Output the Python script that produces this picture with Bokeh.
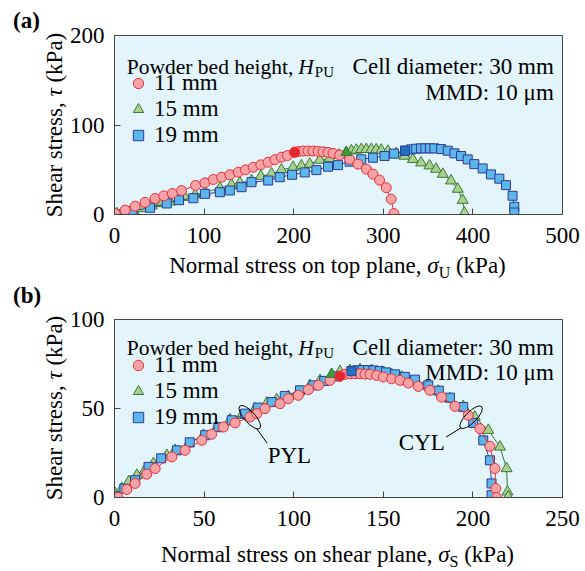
import math
from bokeh.plotting import figure
from bokeh.models import Label, Legend, LegendItem, Range1d, FixedTicker, Div
from bokeh.layouts import column, row
from bokeh.embed import file_html
from bokeh.resources import INLINE

# ---------------- data ----------------
# (a) normal stress on top plane sigma_U (kPa) vs shear stress tau (kPa)
a11_x = [0.7, 11.9, 23.0, 34.1, 45.3, 55.0, 64.5, 74.9, 90.5, 100.9, 110.2, 119.5, 128.7, 138.1,
         146.2, 154.8, 163.3, 171.5, 179.0, 186.3, 193.0, 201.1, 205.5, 210.5, 216.0, 221.6,
         227.2, 232.7, 238.3, 243.9, 251.3, 262.4, 271.7, 281.0, 288.4, 295.8, 303.3, 308.8, 311.8]
a11_y = [1.1, 4.9, 9.3, 13.6, 17.9, 20.8, 23.5, 26.8, 32.4, 35.4, 39.1, 41.7, 44.4, 47.3,
         49.9, 52.8, 55.5, 58.4, 61.3, 64.0, 65.9, 69.6, 70.5, 70.9, 70.9, 70.9,
         70.5, 70.1, 69.4, 68.3, 66.4, 61.6, 56.3, 50.7, 45.1, 38.4, 29.9, 17.2, 1.1]
a11_pk = 21

a15_x = [2.6, 21.2, 30.4, 41.6, 52.7, 62.0, 78.6, 89.8, 100.9, 117.6, 130.6, 139.9, 152.9, 163.3,
         175.2, 186.3, 199.3, 208.6, 217.9, 229.0, 240.2, 250.2, 258.7, 264.3, 269.9, 275.4,
         281.0, 286.6, 292.1, 297.7, 305.1, 314.4, 323.7, 333.0, 342.2, 351.5, 358.9, 366.4,
         375.6, 383.1, 388.6, 390.5]
a15_y = [1.1, 4.1, 6.7, 9.7, 12.3, 14.2, 19.3, 22.0, 24.9, 29.4, 33.2, 35.4, 38.0, 42.8,
         45.5, 49.9, 52.8, 54.5, 56.3, 60.8, 62.7, 66.4, 69.4, 71.3, 72.0, 72.8,
         72.8, 72.8, 72.4, 72.0, 70.9, 68.3, 65.3, 61.6, 57.8, 54.5, 50.7, 45.1,
         37.7, 28.4, 16.0, 1.9]
a15_pk = 22

a19_x = [2.6, 20.0, 39.7, 58.3, 72.0, 88.0, 100.9, 117.6, 128.7, 141.8, 152.9, 171.5, 184.4,
         198.2, 212.3, 225.3, 238.3, 249.4, 262.4, 275.4, 288.4, 301.4, 312.0, 324.3, 331.1,
         336.7, 342.0, 347.0, 352.0, 357.0, 364.5, 371.9, 379.4, 386.8, 394.2, 401.6, 410.9,
         420.1, 429.5, 436.9, 444.3, 446.2, 446.2]
a19_y = [0.5, 4.0, 7.5, 12.3, 16.0, 18.2, 23.1, 24.9, 26.8, 30.5, 36.1, 38.0, 41.7,
         44.4, 47.0, 49.6, 53.4, 55.2, 59.0, 61.6, 63.4, 65.3, 68.0, 71.3, 72.8,
         73.5, 73.9, 73.9, 73.9, 73.9, 73.1, 71.3, 68.3, 65.3, 61.6, 56.3, 51.5,
         44.8, 40.0, 32.8, 20.9, 8.6, 2.2]
a19_pk = 23

# (b) normal stress on shear plane sigma_S (kPa) vs shear stress tau (kPa)
b11_x = [1.9, 6.9, 11.5, 18.0, 22.7, 32.0, 39.4, 48.7, 54.2, 60.8, 67.3, 75.6, 79.4, 84.0,
         92.4, 97.0, 102.6, 108.2, 113.8, 120.3, 125.8, 128.6, 131.4, 134.2, 137.0, 139.8,
         142.6, 146.3, 150.0, 154.6, 159.3, 163.9, 169.5, 176.0, 182.5, 190.0, 197.4, 203.9,
         209.5, 212.3, 212.8, 213.2]
b11_y = [0.0, 4.5, 7.9, 13.1, 16.3, 22.8, 26.5, 32.1, 35.5, 39.6, 41.9, 45.2, 47.1, 49.9,
         52.7, 55.5, 57.4, 60.6, 63.0, 65.8, 68.2, 69.2, 69.5, 69.5, 69.5, 69.3,
         69.2, 68.6, 67.7, 66.7, 65.8, 64.3, 62.4, 60.2, 56.4, 51.2, 46.2, 38.7,
         28.8, 16.3, 5.0, 0.0]
b11_pk = 20

b15_x = [0.4, 4.1, 8.0, 12.5, 17.0, 21.7, 29.2, 33.8, 41.3, 49.6, 57.1, 64.5, 71.0, 78.4,
         85.0, 90.5, 97.0, 102.6, 109.1, 114.7, 121.2, 125.8, 131.4, 137.0, 143.5, 149.1,
         154.6, 160.2, 168.6, 174.2, 180.7, 187.2, 194.6, 201.1, 208.6, 215.1, 218.8, 219.3, 219.7]
b15_y = [2.2, 5.0, 9.0, 12.5, 15.5, 19.1, 23.7, 26.5, 30.3, 35.0, 39.3, 43.7, 46.2, 49.9,
         53.1, 55.0, 56.8, 59.3, 63.0, 65.8, 69.2, 70.8, 71.4, 71.8, 71.4, 70.5,
         69.2, 67.7, 64.9, 63.0, 59.8, 55.5, 51.2, 45.2, 37.8, 28.4, 16.3, 3.2, 0.4]
b15_pk = 20

b19_x = [0.7, 5.5, 11.5, 19.0, 26.0, 34.8, 42.0, 50.6, 58.0, 65.4, 72.9, 80.0, 87.7, 95.0,
         103.5, 111.0, 117.0, 124.0, 132.3, 135.5, 138.5, 141.5, 144.5, 148.0, 151.5, 156.5,
         162.0, 167.7, 175.1, 181.0, 187.2, 194.6, 200.2, 205.8, 209.5, 210.4, 210.4]
b19_y = [0.7, 5.0, 9.7, 17.2, 22.0, 26.5, 31.0, 35.0, 39.5, 43.4, 47.1, 50.5, 53.6, 57.0,
         60.2, 63.0, 65.5, 68.0, 71.0, 71.5, 71.6, 71.6, 71.4, 71.0, 70.3, 69.2,
         67.8, 66.2, 63.0, 60.0, 56.1, 50.8, 41.9, 32.1, 20.9, 7.9, 1.3]
b19_pk = 18

series_labels = ["11 mm", "15 mm", "19 mm"]
xticks_a = [0, 100, 200, 300, 400, 500]
yticks_a = [0, 100, 200]
xticks_b = [0, 50, 100, 150, 200, 250]
yticks_b = [0, 50, 100]

# ---------------- style ----------------
FONT = "Liberation Serif"
FS = 23
TFS = 21.5
BG = "#e3f4fb"
AX = "#444444"
STY = [
    dict(marker="circle", size=10, line="#e5323b", fill="#f7a2a5", dark="#e0262e"),
    dict(marker="triangle", size=11, line="#3a7a36", fill="#a9d18e", dark="#3f9a3a"),
    dict(marker="square", size=9, line="#2b3c94", fill="#5cb6ea", dark="#1f72c4"),
]

TNR = {' ': 250, ',': 250, ':': 278, '(': 333, ')': 333, 'C': 667, 'D': 722, 'H': 722,
       'L': 611, 'M': 889, 'N': 722, 'P': 556, 'S': 556, 'U': 722, 'Y': 722, 'a': 444,
       'b': 500, 'd': 500, 'e': 444, 'g': 500, 'h': 500, 'i': 278, 'k': 500, 'l': 278,
       'm': 778, 'n': 500, 'o': 500, 'p': 500, 'r': 333, 's': 389, 't': 278, 'w': 722}


def tw(s, size):
    return sum(TNR.get(c, 500) for c in s) / 1000.0 * size


def lab(p, x, y, text, size=FS, align="left", baseline="alphabetic", style="normal"):
    p.add_layout(Label(x=x, y=y, text=text, text_font=FONT, text_font_size=f"{size}px",
                       text_align=align, text_baseline=baseline, text_font_style=style,
                       text_color="black"))


FRAME_W = 449
BL, BR = 47, 20
DIV_W = 66
CSS = ("font-family:'Liberation Serif',serif;font-size:23px;line-height:23px;"
       "color:black;white-space:nowrap;")


def panel(xr, yr, xticks, yticks, data, height, top, bottom, title_dn, mmd_dn, row_dn):
    W = BL + FRAME_W + BR
    fh = height - top - bottom
    sx = FRAME_W / (xr[1] - xr[0])
    sy = fh / (yr[1] - yr[0])

    def X(px):
        return xr[0] + px / sx

    def Y(py):
        return yr[0] + py / sy

    p = figure(width=W, height=height, x_range=Range1d(*xr), y_range=Range1d(*yr),
               output_backend="svg", toolbar_location=None,
               min_border_left=BL, min_border_right=BR, min_border_top=top,
               min_border_bottom=bottom)
    p.background_fill_color = BG
    p.border_fill_color = "white"
    p.outline_line_color = AX
    p.outline_line_width = 1
    p.grid.visible = False
    p.xaxis.ticker = FixedTicker(ticks=xticks)
    p.yaxis.ticker = FixedTicker(ticks=yticks)
    for ax in (p.xaxis[0], p.yaxis[0]):
        ax.axis_line_color = AX
        ax.major_tick_line_color = AX
        ax.major_tick_in = 6
        ax.major_tick_out = 0
        ax.minor_tick_line_color = None
        ax.major_label_text_font = FONT
        ax.major_label_text_font_size = f"{FS}px"
        ax.major_label_text_color = "black"
    p.xaxis[0].major_label_standoff = 13
    p.yaxis[0].major_label_standoff = 10

    order = [1, 2, 0]
    scat = {}
    for i in order:
        xs, ys, pk = data[i]
        st = STY[i]
        p.line(xs, ys, line_color=st["line"], line_width=1)
        scat[i] = p.scatter(xs, ys, marker=st["marker"], size=st["size"], fill_color=st["fill"],
                            line_color=st["line"], line_width=1)
    for i in order:
        xs, ys, pk = data[i]
        st = STY[i]
        p.scatter([xs[pk]], [ys[pk]], marker=st["marker"], size=st["size"],
                  fill_color=st["dark"], line_color=st["line"], line_width=1)

    # legend
    item_h = 26
    items = [LegendItem(label=series_labels[i], renderers=[scat[i]]) for i in range(3)]
    leg = Legend(items=items, location=(10, fh - (row_dn + 2 * item_h + item_h / 2)),
                 glyph_width=28, glyph_height=item_h, label_height=item_h,
                 label_text_font=FONT, label_text_font_size=f"{FS}px",
                 label_text_color="black", label_standoff=2,
                 spacing=0, padding=0, margin=0, background_fill_alpha=0,
                 border_line_alpha=0)
    p.add_layout(leg)

    # legend title: Powder bed height, H_PU
    t1 = "Powder bed height,"
    x0 = 12.3
    lab(p, X(x0), Y(fh - title_dn), t1, size=TFS)
    xh = x0 + tw(t1 + " ", TFS)
    lab(p, X(xh), Y(fh - title_dn), "H", size=TFS, style="italic")
    lab(p, X(xh + tw("H", TFS) + 1), Y(fh - title_dn - 5), "PU", size=15)
    lab(p, X(FRAME_W - 8.7), Y(fh - title_dn), "Cell diameter: 30 mm", align="right")
    lab(p, X(FRAME_W - 8.7), Y(fh - mmd_dn), "MMD: 10 \u03bcm", align="right")
    return p


def ylabel_div(tag, height, tag_top, center_y):
    html = (f'<div style="position:relative;width:{DIV_W}px;height:{height}px;">'
            f'<span style="position:absolute;left:13px;top:{tag_top}px;{CSS}font-weight:bold;">{tag}</span>'
            f'<span style="position:absolute;left:54px;top:{center_y}px;'
            f'transform:translate(-50%,-50%) rotate(-90deg);{CSS}">'
            f'Shear stress, <i>\u03c4</i> (kPa)</span></div>')
    return Div(text=html, width=DIV_W, height=height, margin=0)


def xlabel_div(main, sub, height, top):
    W = DIV_W + BL + FRAME_W + BR
    html = (f'<div style="position:relative;width:{W}px;height:{height}px;">'
            f'<div style="position:absolute;left:{DIV_W + BL}px;top:{top}px;width:{FRAME_W}px;'
            f'text-align:center;{CSS}">{main} <i>\u03c3</i>'
            f'<span style="font-size:16px;position:relative;top:5px;">{sub}</span> (kPa)</div></div>')
    return Div(text=html, width=W, height=height, margin=0)


HA, HB = 254, 255
pa = panel((0, 500), (0, 200), xticks_a, yticks_a,
           [(a11_x, a11_y, a11_pk), (a15_x, a15_y, a15_pk), (a19_x, a19_y, a19_pk)],
           height=HA, top=35, bottom=40, title_dn=31, mmd_dn=57, row_dn=48)

pb = panel((0, 250), (0, 100), xticks_b, yticks_b,
           [(b11_x, b11_y, b11_pk), (b15_x, b15_y, b15_pk), (b19_x, b19_y, b19_pk)],
           height=HB, top=37, bottom=40, title_dn=28, mmd_dn=53, row_dn=46)

# PYL / CYL annotations in panel (b)
pb.ellipse(x=[75.5], y=[45.1], width=30, height=11, angle=-0.84,
           width_units="screen", height_units="screen", fill_color=None,
           line_color="black", line_width=1)
pb.ellipse(x=[199.0], y=[45.1], width=30, height=11, angle=0.79,
           width_units="screen", height_units="screen", fill_color=None,
           line_color="black", line_width=1)
pb.segment(x0=[79.4], y0=[38.6], x1=[85.2], y1=[30.5], line_color="black", line_width=1)
pb.segment(x0=[193.4], y0=[39.2], x1=[185.0], y1=[33.9], line_color="black", line_width=1)
lab(pb, 97.6, 23.6, "PYL", align="center", baseline="middle")
lab(pb, 171.5, 31.0, "CYL", align="center", baseline="middle")

layout = column(
    row(ylabel_div("(a)", HA, 9, 124.5), pa, spacing=0),
    xlabel_div("Normal stress on top plane,", "U", 28, 0),
    row(ylabel_div("(b)", HB, 2, 126), pb, spacing=0),
    xlabel_div("Normal stress on shear plane,", "S", 33, 6),
    spacing=0,
)
open("out.html", "w").write(file_html(layout, INLINE))
